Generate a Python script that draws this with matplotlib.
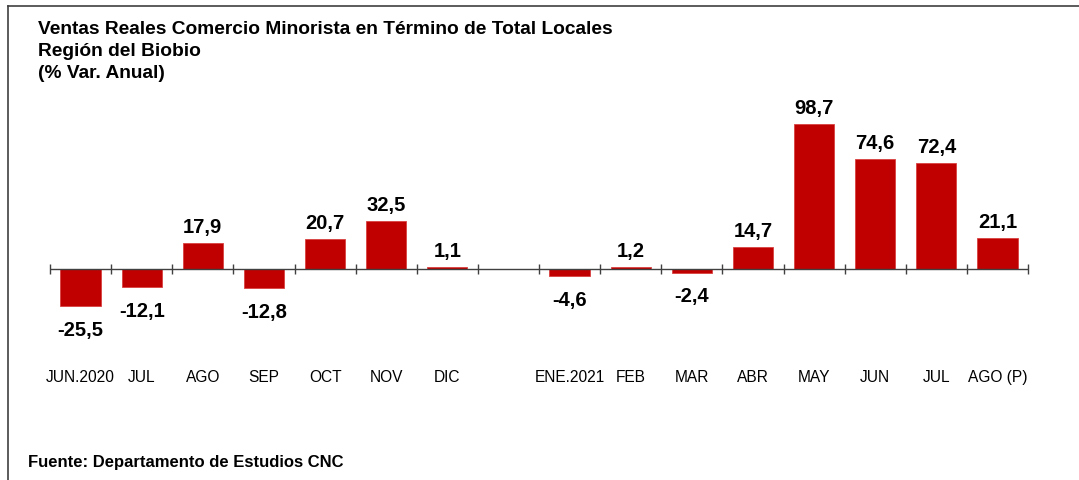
import matplotlib
matplotlib.use('Agg')
import matplotlib.pyplot as plt
from matplotlib.lines import Line2D
import numpy as np

plt.rcParams['font.family'] = ['Liberation Sans', 'DejaVu Sans']

# ── Data ──────────────────────────────────────────────────────────────────────
months = ['JUN.2020', 'JUL', 'AGO', 'SEP', 'OCT', 'NOV', 'DIC', '',
          'ENE.2021', 'FEB', 'MAR', 'ABR', 'MAY', 'JUN', 'JUL', 'AGO (P)']
values = [-25.5, -12.1, 17.9, -12.8, 20.7, 32.5, 1.1, np.nan,
          -4.6, 1.2, -2.4, 14.7, 98.7, 74.6, 72.4, 21.1]

TITLE = ('Ventas Reales Comercio Minorista en Término de Total Locales\n'
         'Región del Biobio\n(% Var. Anual)')
SOURCE = 'Fuente: Departamento de Estudios CNC'

RED = '#C00000'
W, H = 1079, 481

fig = plt.figure(figsize=(W / 100, H / 100), dpi=100)

# axes placed in pixel terms: x 50..1028, zero line at y=270
ymin, ymax = -40, 110
px_per_unit = 145 / 98.7
top_px = 270 - ymax * px_per_unit
bot_px = 270 - ymin * px_per_unit
ax = fig.add_axes([50 / W, 1 - bot_px / H, 978 / W, (bot_px - top_px) / H])

x = np.arange(len(months))
ax.bar(x, values, width=0.66, color=RED, edgecolor='#d84040', linewidth=0.6, zorder=2)

for xi, v in zip(x, values):
    if np.isnan(v):
        continue
    lab = f'{v:.1f}'.replace('.', ',')
    if v >= 0:
        ax.annotate(lab, (xi, v), xytext=(0, 5), textcoords='offset points',
                    ha='center', va='bottom', fontsize=14.5, fontweight='bold')
    else:
        ax.annotate(lab, (xi, v), xytext=(0, -10), textcoords='offset points',
                    ha='center', va='top', fontsize=14.5, fontweight='bold')

ax.set_xlim(-0.5, len(months) - 0.5)
ax.set_ylim(ymin, ymax)
ax.axhline(0, color='#404040', linewidth=1.0, zorder=3)

for s in ax.spines.values():
    s.set_visible(False)
ax.set_yticks([])

ax.set_xticks(x)
ax.set_xticklabels(months)
ax.set_xticks(np.arange(-0.5, len(months)), minor=True)
ax.xaxis.set_ticks_position('bottom')
ax.tick_params(axis='x', which='major', length=0, pad=72, labelsize=11.2)
ax.tick_params(axis='x', which='minor', direction='inout', length=7,
               width=1.0, color='#404040')
# put minor ticks on zero line
ax.spines['bottom'].set_position(('data', 0))

# title and source
fig.text(38 / W, 1 - 21 / H, TITLE, ha='left', va='top', fontsize=13.8,
         fontweight='bold', linespacing=1.4)
fig.text(28 / W, 1 - 463 / H, SOURCE, ha='left', va='center', fontsize=12,
         fontweight='bold')

# frame lines (top and left)
fig.add_artist(Line2D([8 / W, 1], [1 - 7 / H, 1 - 7 / H], color='#404040', linewidth=1.2))
fig.add_artist(Line2D([8 / W, 8 / W], [0, 1 - 7 / H], color='#404040', linewidth=1.2))

fig.savefig('out.png', dpi=100)
